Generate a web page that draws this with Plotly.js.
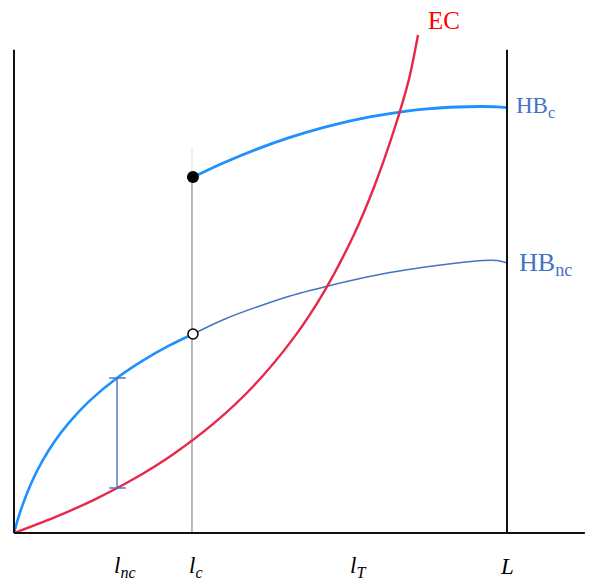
<!DOCTYPE html>
<html>
<head>
<meta charset="utf-8">
<script src="https://cdn.plot.ly/plotly-3.0.1.min.js"></script>
<style>html,body{margin:0;padding:0;background:#fff;}#chart{width:601px;height:580px;}</style>
</head>
<body>
<div id="chart"></div>
<script>
// ---- data (x in units where L = 10) ----
const L_VAL = 10;
const LC = 3.63;          // l_c
const LNC = 2.09;         // l_nc (bracket position)
const Y_TOP = 9.8;        // top of vertical axis / L line
const X_END = 11.58;      // end of horizontal axis

const ecX = [0, 0.811, 1.623, 2.434, 3.245, 4.057, 4.868, 5.680, 6.288, 6.897, 7.302, 7.708, 8.012, 8.195];
const ecY = [0, 0.312, 0.673, 1.099, 1.609, 2.227, 2.992, 3.968, 4.892, 6.057, 7.014, 8.170, 9.207, 10.101];

const hbncLowX = [0, 0.101, 0.203, 0.365, 0.568, 0.811, 1.116, 1.521, 2.089, 2.637, 3.144, 3.631];
const hbncLowY = [0, 0.351, 0.647, 1.045, 1.446, 1.840, 2.239, 2.669, 3.144, 3.511, 3.799, 4.037];

const hbncHighX = [3.631, 4.280, 4.929, 5.598, 6.369, 7.018, 7.627, 8.337, 8.986, 9.513, 9.797, 10];
const hbncHighY = [4.037, 4.341, 4.584, 4.807, 5.010, 5.162, 5.284, 5.396, 5.477, 5.527, 5.527, 5.477];

const hbcX = [3.631, 4.280, 4.929, 5.598, 6.268, 7.018, 7.890, 8.438, 8.986, 9.452, 9.797, 10];
const hbcY = [7.221, 7.521, 7.787, 8.024, 8.223, 8.402, 8.548, 8.609, 8.641, 8.651, 8.645, 8.627];

const bracketTop = 3.144, bracketBottom = 0.913;

const tickLabels = ['<i>l</i><sub><i>nc</i></sub>', '<i>l</i><sub><i>c</i></sub>', '<i>l</i><sub><i>T</i></sub>', '<i>L</i>'];
const tickPos = [2.25, 3.70, 6.98, 10.0];

const SERIF = '"Liberation Serif", "Times New Roman", serif';

const traces = [
  {x: hbncLowX, y: hbncLowY, mode: 'lines', line: {color: '#1E90FF', width: 2.6, shape: 'spline', smoothing: 0.8}},
  {x: hbncHighX, y: hbncHighY, mode: 'lines', line: {color: '#4472C4', width: 1.4, shape: 'spline', smoothing: 0.8}},
  {x: hbcX, y: hbcY, mode: 'lines', line: {color: '#1E90FF', width: 2.8, shape: 'spline', smoothing: 0.8}},
  {x: ecX, y: ecY, mode: 'lines', line: {color: '#E8284A', width: 2.4, shape: 'spline', smoothing: 0.8}},
  {x: [LC], y: [hbcY[0]], mode: 'markers', marker: {color: '#000', size: 12}},
  {x: [LC], y: [hbncHighY[0]], mode: 'markers', marker: {color: '#fff', size: 10, line: {color: '#000', width: 1.5}}}
].map(t => Object.assign(t, {hoverinfo: 'skip', showlegend: false, cliponaxis: false}));

const shapes = [
  // faint part of the l_c guide above the dot
  {type: 'line', x0: LC - 0.02, x1: LC - 0.02, y0: hbcY[0], y1: hbcY[0] + 0.6, line: {color: '#e2e2e2', width: 1}, layer: 'below'},
  {type: 'line', x0: LC - 0.02, x1: LC - 0.02, y0: 0, y1: hbcY[0], line: {color: '#8a8a8a', width: 1.2}, layer: 'below'},
  // axes
  {type: 'line', x0: 0, x1: 0, y0: 0, y1: Y_TOP, line: {color: '#111', width: 2}},
  {type: 'line', x0: 0, x1: X_END, y0: 0, y1: 0, line: {color: '#111', width: 2}},
  {type: 'line', x0: L_VAL, x1: L_VAL, y0: 0, y1: Y_TOP, line: {color: '#111', width: 2}},
  // bracket
  {type: 'line', x0: LNC, x1: LNC, y0: bracketBottom, y1: bracketTop, line: {color: '#4472C4', width: 1.4}},
  {type: 'line', x0: LNC - 0.16, x1: LNC + 0.18, y0: bracketTop, y1: bracketTop, line: {color: '#4472C4', width: 1.4}},
  {type: 'line', x0: LNC - 0.16, x1: LNC + 0.18, y0: bracketBottom, y1: bracketBottom, line: {color: '#4472C4', width: 1.4}}
];

const annotations = [
  {x: 8.35, y: 10.4, text: 'EC', xanchor: 'left', yanchor: 'middle', font: {family: SERIF, size: 25, color: '#FF0000'}},
  {x: 10.15, y: 8.65, text: 'HB<sub>c</sub>', xanchor: 'left', yanchor: 'middle', font: {family: SERIF, size: 23, color: '#4472C4'}},
  {x: 10.2, y: 5.45, text: 'HB<sub>nc</sub>', xanchor: 'left', yanchor: 'middle', font: {family: SERIF, size: 26, color: '#4472C4'}},
  {x: 11.84, y: -0.12, text: '<i>l</i>', xanchor: 'left', yanchor: 'middle', font: {family: SERIF, size: 24, color: '#000'}}
];
tickLabels.forEach((t, i) => annotations.push({
  x: tickPos[i], y: -0.68, text: t, xanchor: 'center', yanchor: 'middle',
  font: {family: SERIF, size: 23, color: '#000'}
}));
annotations.forEach(a => { a.showarrow = false; a.xref = 'x'; a.yref = 'y'; });

const layout = {
  width: 601, height: 580,
  margin: {l: 0, r: 0, t: 0, b: 0, pad: 0},
  paper_bgcolor: '#fff', plot_bgcolor: '#fff',
  xaxis: {range: [-14 / 49.3, 587 / 49.3], visible: false, fixedrange: true},
  yaxis: {range: [-47 / 49.3, 533 / 49.3], visible: false, fixedrange: true},
  shapes: shapes,
  annotations: annotations,
  showlegend: false
};

Plotly.newPlot('chart', traces, layout, {displayModeBar: false, staticPlot: true});
</script>
</body>
</html>
